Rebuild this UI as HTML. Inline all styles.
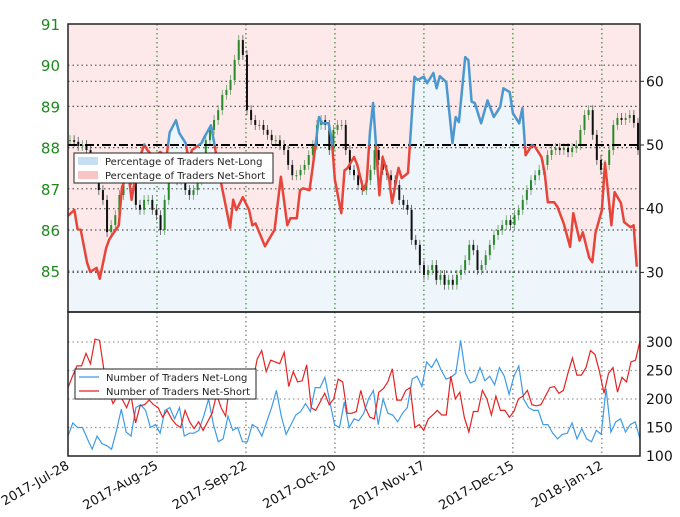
<!DOCTYPE html>
<html><head><meta charset="utf-8"><style>
body{margin:0;background:#fff;width:680px;height:512px;overflow:hidden;font-family:"Liberation Sans",sans-serif}
svg text{font-family:"DejaVu Sans","Liberation Sans",sans-serif}
</style></head><body>
<svg id="c" width="680" height="512" xmlns="http://www.w3.org/2000/svg"></svg>
<script>
// ---- data ----
const dateTicks=["2017-Jul-28","2017-Aug-25","2017-Sep-22","2017-Oct-20","2017-Nov-17","2017-Dec-15","2018-Jan-12"];
const priceTicks=[85,86,87,88,89,90,91];
const pctTicks=[30,40,50,60];
const countTicks=[100,150,200,250,300];
const pctDays=[0,2,3,4,6,7,9,10,12,13,16,17,19,20,22,24,25,27,29,31,32,34,35,37,38,39,42,43,45,46,48,51,52,53,55,57,58,59,62,63,65,67,69,70,72,73,74,76,77,79,80,82,83,84,86,87,88,90,91,93,94,95,96,98,99,101,102,104,105,107,109,110,112,113,115,116,117,119,121,122,123,125,126,127,128,130,132,134,136,137,139,140,142,143,144,146,147,149,150,151,153,154,156,158,159,161,162,164,165,166,168,169,171,172,174,175,177,178,179];
const pctLong=[38.9,39.8,36.8,36.7,31.5,30.1,30.7,29,33.8,35.2,37.4,43.4,45.6,41.4,47.2,50.1,49.2,48.1,48.9,48.1,52,53.9,51.9,50.3,47.6,49.2,50.3,51.3,53.1,50.3,44.5,37,41.4,39.8,41.8,39.8,37.4,37.7,34.1,35,36.7,45,37.4,38.5,38.5,42.9,43.2,42.9,46.5,54.4,53.4,53.4,50.8,44.5,39.3,46,46.4,48.1,46.9,42.9,44.2,51.9,56.6,42.1,48.1,44.8,40.9,46.4,44.8,45.6,60.7,60.2,60.7,59.7,61.3,58.9,60.8,59.9,50.3,54.4,53.6,63.8,63.3,56.8,56.6,53.4,57,54.4,56,58.9,58.3,55,53.4,55.8,48.4,50,49.7,48.1,45.6,41,41,40.3,37.7,34,39.3,35,36.3,32.3,31.6,36.2,39.8,47.2,37.4,42.6,40.9,37.9,37.1,37.4,30.9];
const closes=[88.18,88.14,88.04,88.06,87.94,87.70,87.46,86.97,86.73,85.95,86.12,86.36,86.85,87.33,87.58,87.21,86.61,86.49,86.73,86.73,86.49,86.36,86.00,86.73,87.46,87.33,87.21,87.21,86.97,86.85,86.97,87.21,87.70,88.18,88.43,88.67,88.91,89.28,89.40,89.64,90.13,90.61,90.25,88.91,88.67,88.55,88.55,88.43,88.31,88.18,88.18,88.06,87.94,87.58,87.33,87.33,87.46,87.58,87.82,88.06,88.55,88.67,88.55,87.94,88.43,88.55,88.55,87.94,87.46,87.33,87.09,86.97,87.21,87.46,87.94,87.70,87.46,87.33,87.21,87.09,86.73,86.61,86.49,85.76,85.64,85.15,84.91,85.03,85.15,84.79,84.91,84.67,84.79,84.67,84.91,85.03,85.27,85.64,85.51,85.03,85.15,85.39,85.64,85.88,86.00,86.12,86.24,86.12,86.36,86.49,86.73,86.97,87.21,87.33,87.46,87.58,87.82,87.94,87.99,87.94,87.99,87.89,87.99,88.06,88.43,88.79,88.91,88.31,87.70,87.46,87.58,87.94,88.55,88.72,88.67,88.72,88.79,88.60,87.94];
const netLong=[135,158,150,150,130,112,135,122,118,112,145,182,142,135,185,190,180,150,155,140,180,185,165,185,135,140,140,145,170,200,155,125,130,170,145,150,125,125,155,150,135,160,185,215,170,138,155,172,178,192,178,220,220,238,195,155,150,195,150,165,162,175,200,215,155,200,175,172,160,175,185,235,240,222,265,255,270,250,235,238,245,303,245,228,232,255,232,240,225,255,240,208,240,258,200,185,180,180,155,155,140,130,138,140,158,130,148,130,125,145,138,218,142,160,165,142,155,160,130];
const netShort=[220,240,258,258,280,262,305,303,250,215,192,205,200,185,205,158,188,190,198,190,185,168,180,165,155,150,180,160,148,160,145,160,175,208,185,170,232,240,230,228,245,230,270,285,248,268,265,262,282,222,248,230,232,260,185,180,195,210,190,200,235,230,175,175,178,215,185,168,165,212,218,230,253,198,198,215,220,150,155,145,165,172,180,172,172,240,200,212,168,142,178,178,215,200,172,205,180,180,168,178,200,205,215,190,188,190,205,220,222,210,215,245,272,242,242,255,285,278,248,210,245,255,212,238,230,265,268,302];

// ---- layout ----
const L=68,R=640,T=24,M=312,B=456,TOTAL=180;
const NS='http://www.w3.org/2000/svg';
const svg=document.getElementById('c');
function el(tag,attrs,parent){const e=document.createElementNS(NS,tag);for(const k in attrs)e.setAttribute(k,attrs[k]);(parent||svg).appendChild(e);return e;}
const xDay=d=>L+d/TOTAL*(R-L);
const yPrice=p=>T+(91-p)*41.2;
const yPct=v=>145-(v-50)*6.37;
const yCnt=v=>B-(v-100)*0.57;

let linePts=pctDays.map((d,i)=>[xDay(d),yPct(pctLong[i])]);
let lineStr=linePts.map(p=>p[0].toFixed(1)+','+p[1].toFixed(1)).join(' ');
const bgTop=el('rect',{x:L,y:T,width:R-L,height:M-T,fill:'#eef5fb'});


const pinkPoly=el('polygon',{points:L+','+T+' '+lineStr+' '+R+','+linePts[linePts.length-1][1]+' '+R+','+T,fill:'#fde9e9'});



const grid=el('g',{stroke:'#3a8a3a','stroke-width':1.2,'stroke-dasharray':'1.5,3'});


priceTicks.forEach(p=>{if(p<91)el('line',{x1:L,x2:R,y1:yPrice(p),y2:yPrice(p),stroke:'#555'},grid);});
pctTicks.forEach(v=>{if(v!==50)el('line',{x1:L,x2:R,y1:yPct(v),y2:yPct(v),stroke:'#555'},grid);});
dateTicks.forEach((t,i)=>{const x=xDay(i*28);if(i>0){el('line',{x1:x,x2:x,y1:T,y2:M},grid);el('line',{x1:x,x2:x,y1:M,y2:B,stroke:'#777'},grid);}});
countTicks.forEach(v=>{if(v>100)el('line',{x1:L,x2:R,y1:yCnt(v),y2:yCnt(v),stroke:'#999'},grid);});

const cg=el('g',{});


const n=closes.length;
closes.forEach((c,i)=>{
  const o=i?closes[i-1]:c;const x=70+i*(638-70)/(n-1);
  const up=c>=o;const hi=Math.max(o,c)+0.12,lo=Math.min(o,c)-0.12;
  const col=up?'#2a8a2a':'#111';
  el('line',{x1:x,x2:x,y1:yPrice(hi),y2:yPrice(lo),stroke:up?'#6a9a6a':'#555','stroke-width':0.8},cg);
  const y1=yPrice(Math.max(o,c)),y2=yPrice(Math.min(o,c));
  const r=el('rect',{x:x-1,y:y1,width:2,height:Math.max(1,y2-y1),fill:col},cg);
  
  
});

const fifty=el('line',{x1:L,x2:R,y1:yPct(50),y2:yPct(50),stroke:'#000','stroke-width':2,'stroke-dasharray':'9,3,2,3'});



const defs=el('defs',{});
const c1=el('clipPath',{id:'ab'},defs);el('rect',{x:L,y:T,width:R-L,height:yPct(50)-T},c1);
const c2=el('clipPath',{id:'bl'},defs);el('rect',{x:L,y:yPct(50),width:R-L,height:M-yPct(50)},c2);
const lb=el('polyline',{points:lineStr,fill:'none',stroke:'#4a98cf','stroke-width':2.5,'clip-path':'url(#ab)','stroke-linejoin':'round'});


const lr=el('polyline',{points:lineStr,fill:'none',stroke:'#e8453a','stroke-width':2.5,'clip-path':'url(#bl)','stroke-linejoin':'round'});



function cntLine(arr,col,name){const m=arr.length;const pts=arr.map((v,i)=>(L+i*(R-L)/(m-1)).toFixed(1)+','+yCnt(v).toFixed(1)).join(' ');
  const p=el('polyline',{points:pts,fill:'none',stroke:col,'stroke-width':1.2});
  
  }
cntLine(netLong,'#3d9be9','net-long-count-line');
cntLine(netShort,'#e52222','net-short-count-line');

const f1=el('rect',{x:L,y:T,width:R-L,height:M-T,fill:'none',stroke:'#222','stroke-width':1.5});


const f2=el('rect',{x:L,y:M,width:R-L,height:B-M,fill:'none',stroke:'#222','stroke-width':1.5});



priceTicks.forEach(p=>{const t=el('text',{x:60,y:yPrice(p)+6,'text-anchor':'end','font-size':15,fill:'#1e8a1e'});t.textContent=p;
  
  });
pctTicks.forEach(v=>{el('line',{x1:R,x2:R+4,y1:yPct(v),y2:yPct(v),stroke:'#222'});const t=el('text',{x:646,y:yPct(v)+5,'font-size':14,fill:'#111'});t.textContent=v;
  
  });
countTicks.forEach(v=>{const t=el('text',{x:646,y:yCnt(v)+5,'font-size':14,fill:'#111'});t.textContent=v;
  
  });
dateTicks.forEach((d,i)=>{const x=xDay(i*28);const t=el('text',{x:x+2,y:B+12,'text-anchor':'end','font-size':13,fill:'#111',transform:'rotate(-30 '+(x+2)+' '+(B+12)+')'});t.textContent=d;
  
  });

function legend(x,y,w,h,items,name,swatch){const g=el('g',{});
  
  
  el('rect',{x:x,y:y,width:w,height:h,fill:'#fff',stroke:'#222','stroke-width':1},g);
  items.forEach((it,i)=>{const cy=y+8+i*14;
    if(swatch)el('rect',{x:x+4,y:cy-4,width:20,height:8,fill:it[1]},g);
    else el('line',{x1:x+4,x2:x+24,y1:cy,y2:cy,stroke:it[1],'stroke-width':1.3},g);
    const t=el('text',{x:x+31,y:cy+4,'font-size':10,fill:'#222'},g);t.textContent=it[0];});}
legend(74,153,199,30,[["Percentage of Traders Net-Long","#c5def2"],["Percentage of Traders Net-Short","#f8c4c4"]],'pct-legend',true);
legend(75,369,181,30,[["Number of Traders Net-Long","#3d9be9"],["Number of Traders Net-Short","#e52222"]],'count-legend',false);
</script>
</body></html>
